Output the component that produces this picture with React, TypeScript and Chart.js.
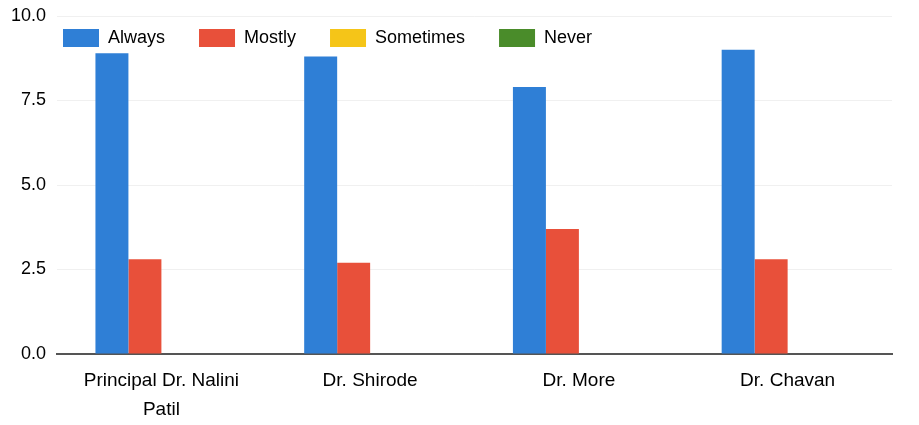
import { useEffect, useRef } from 'react';
import { Chart, registerables } from 'chart.js';

Chart.register(...registerables);

const categories: (string | string[])[] = [['Principal Dr. Nalini', 'Patil'], 'Dr. Shirode', 'Dr. More', 'Dr. Chavan'];
const seriesNames = ['Always', 'Mostly', 'Sometimes', 'Never'];
const always = [8.9, 8.8, 7.9, 9.0];
const mostly = [2.8, 2.7, 3.7, 2.8];
const sometimes = [0, 0, 0, 0];
const never = [0, 0, 0, 0];
const yMin = 0;
const yMax = 10;
const yStep = 2.5;

const colors = ['#2f7fd6', '#e8503a', '#f5c518', '#4a8c2a'];
const FONT = '"Liberation Sans", Arial, Helvetica, sans-serif';

const legendOverlay = {
  id: 'legendOverlay',
  afterInit(chart: any) {
    const lg = chart.legend;
    if (!lg) return;
    const origFit = lg.fit.bind(lg);
    lg.fit = function () {
      origFit();
      this._realH = this.height;
      this.height = 0;
    };
  },
  afterLayout(chart: any) {
    const lg = chart.legend;
    if (!lg) return;
    const h = lg._realH || 60;
    lg.top = -5;
    lg.height = h;
    lg.bottom = lg.top + h;
    lg.left = 29;
    lg.width = chart.width;
    lg.right = lg.left + chart.width;
  },
};

export default function App() {
  const ref = useRef<HTMLCanvasElement | null>(null);
  useEffect(() => {
    if (!ref.current) return;
    const data = [always, mostly, sometimes, never];
    const chart = new Chart(ref.current, {
      type: 'bar',
      data: {
        labels: categories,
        datasets: seriesNames.map((name, i) => ({
          label: name,
          data: data[i],
          backgroundColor: colors[i],
          borderWidth: 0,
          categoryPercentage: 0.632,
          barPercentage: 1,
        })),
      },
      options: {
        responsive: true,
        maintainAspectRatio: false,
        animation: false,
        layout: { padding: { left: 0, top: 16, right: 27, bottom: -12 } },
        plugins: {
          tooltip: { enabled: false },
          legend: {
            display: true,
            position: 'top',
            align: 'start',
            labels: {
              boxWidth: 36,
              boxHeight: 18,
              padding: 34,
              color: '#000',
              font: { family: FONT, size: 18 },
            },
          },
        },
        scales: {
          x: {
            grid: { display: false, drawTicks: false },
            border: { display: true, color: '#555', width: 2 },
            ticks: {
              color: '#000',
              padding: 13,
              maxRotation: 0,
              autoSkip: false,
              font: { family: FONT, size: 19, lineHeight: 1.5 },
            },
          },
          y: {
            min: yMin,
            max: yMax,
            border: { display: false },
            grid: {
              drawTicks: false,
              color: 'rgba(0,0,0,0.06)',
              lineWidth: 1,
            },
            ticks: {
              stepSize: yStep,
              padding: 11,
              color: '#000',
              font: { family: FONT, size: 18 },
              callback: (v: any) => Number(v).toFixed(1),
            },
            afterFit(scale: any) {
              scale.paddingTop = 4;
              scale.paddingBottom = 4;
            },
          },
        },
      },
      plugins: [legendOverlay],
    } as any);
    return () => chart.destroy();
  }, []);
  return (
    <div style={{ position: 'fixed', left: 0, top: 0, width: 919, height: 425, background: '#fff' }}>
      <canvas ref={ref} />
    </div>
  );
}
